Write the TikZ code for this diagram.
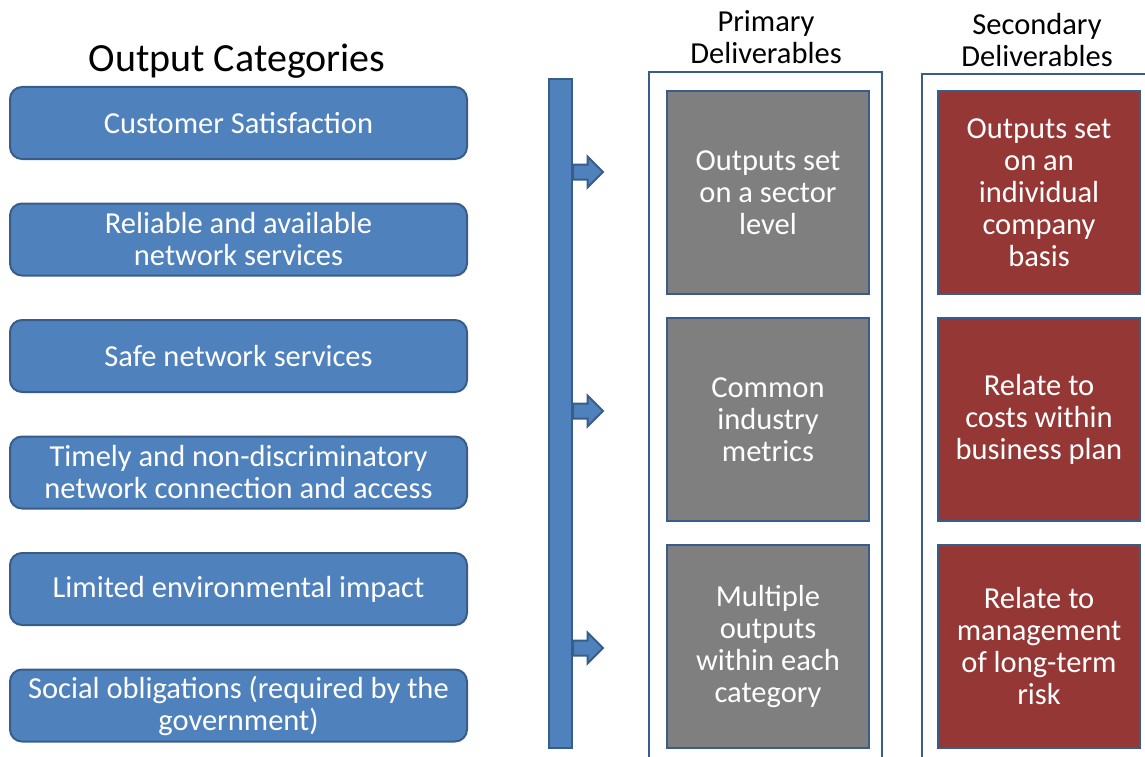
\documentclass[tikz,border=0pt]{standalone}
\usepackage{fontspec}
\setmainfont{Carlito}
\usetikzlibrary{shapes.arrows, positioning}

\definecolor{catblue}{HTML}{4F81BD}
\definecolor{edgeblue}{HTML}{385D8A}
\definecolor{primgray}{HTML}{7F7F7F}
\definecolor{secred}{HTML}{953735}

\begin{document}
\begin{tikzpicture}[
      x=1pt, y=-1pt,
      node distance=44.5pt and 69pt,
      font=\fontsize{30.5}{32}\selectfont,
      cat/.style={rectangle, draw=edgeblue, line width=2pt, rounded corners=12pt, fill=catblue, text=white, minimum width=457pt, minimum height=72pt, align=center, outer sep=0pt},
      bar/.style={rectangle, draw=edgeblue, line width=2pt, fill=catblue, minimum width=23pt, minimum height=669pt, outer sep=0pt},
      blockarrow/.style={single arrow, draw=edgeblue, line width=2pt, fill=catblue, inner sep=0pt, text height=13pt, text depth=0pt, single arrow head extend=8pt, minimum height=30pt, anchor=tail},
      frame/.style={rectangle, draw=edgeblue, line width=2pt, anchor=north west, outer sep=0pt},
      prim/.style={rectangle, draw=edgeblue, line width=2pt, fill=primgray, text=white, minimum width=202pt, minimum height=203pt, align=center, outer sep=0pt},
      sec/.style={prim, fill=secred},
      head/.style={align=center, text=black}
    ]
    \useasboundingbox (0,0) rectangle (1145,757);

    % output categories
    \node[font=\fontsize{40}{44}\selectfont, anchor=base] (title) at (237,72) {Output Categories};
    \node[cat] (c1) at (238.5,123) {Customer Satisfaction};
    \node[cat, below=of c1] (c2) {Reliable and available\\network services};
    \node[cat, below=of c2] (c3) {Safe network services};
    \node[cat, below=of c3] (c4) {Timely and non-discriminatory\\network connection and access};
    \node[cat, below=of c4] (c5) {Limited environmental impact};
    \node[cat, below=of c5] (c6) {Social obligations (required by the\\government)};

    % bar and block arrows
    \node[bar] (bar) at (560.5,413.5) {};
    \node[blockarrow] (a1) at (bar.east |- 0,172) {};
    \node[blockarrow] (a2) at (bar.east |- 0,411) {};
    \node[blockarrow] (a3) at (bar.east |- 0,648) {};

    % deliverable columns
    \node[frame, minimum width=233pt, minimum height=720pt] (pframe) at (649,72) {};
    \node[frame, minimum width=260pt, minimum height=720pt] (sframe) at (922,74) {};
    \node[head] (phead) at (766,37) {Primary\\Deliverables};
    \node[head] (shead) at (1037,40) {Secondary\\Deliverables};

    \node[prim] (p1) at (768,192.5) {Outputs set\\on a sector\\level};
    \node[prim, below=24pt of p1] (p2) {Common\\industry\\metrics};
    \node[prim, below=24pt of p2] (p3) {Multiple\\outputs\\within each\\category};

    \node[sec, right=of p1] (s1) {Outputs set\\on an\\individual\\company\\basis};
    \node[sec, right=of p2] (s2) {Relate to\\costs within\\business plan};
    \node[sec, right=of p3] (s3) {Relate to\\management\\of long-term\\risk};
  \end{tikzpicture}
\end{document}
